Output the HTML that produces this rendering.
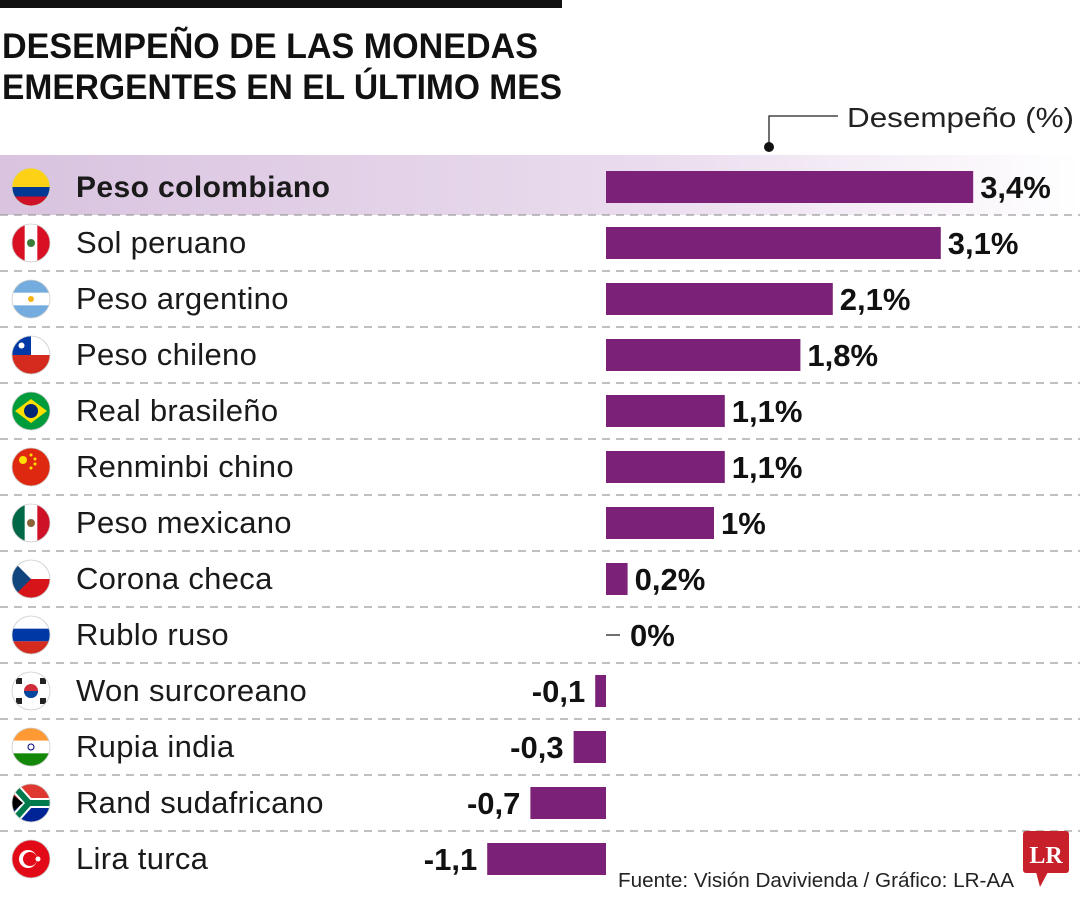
<!DOCTYPE html>
<html><head><meta charset="utf-8"><style>
body{margin:0;background:#fff;}
svg{display:block;font-family:"Liberation Sans",sans-serif;}
</style></head><body>
<svg id="chart" width="1080" height="900" viewBox="0 0 1080 900">
<defs>
<linearGradient id="hl" x1="0" x2="1" y1="0" y2="0">
<stop offset="0" stop-color="#d9c3df"/><stop offset="0.6" stop-color="#eadcee"/><stop offset="1" stop-color="#ffffff"/>
</linearGradient>
</defs>
<rect x="0" y="0" width="562" height="8" fill="#111"/>
<text x="2" y="58" font-size="35" font-weight="bold" fill="#111" textLength="536" lengthAdjust="spacingAndGlyphs">DESEMPEÑO DE LAS MONEDAS</text>
<text x="2" y="99" font-size="35" font-weight="bold" fill="#111" textLength="560" lengthAdjust="spacingAndGlyphs">EMERGENTES EN EL ÚLTIMO MES</text>
<rect x="0" y="155" width="1080" height="60" fill="url(#hl)"/>
<g>
<polyline points="769,146 769,116 838,116" fill="none" stroke="#222" stroke-width="1.3"/>
<circle cx="769" cy="147" r="5" fill="#111"/>
<text x="847" y="127" font-size="28" fill="#222" textLength="227" lengthAdjust="spacingAndGlyphs">Desempeño (%)</text>
</g>
<g id="rows"></g>
<text x="618" y="887" font-size="20" fill="#222" textLength="396" lengthAdjust="spacingAndGlyphs">Fuente: Visión Davivienda / Gráfico: LR-AA</text>
<g>
<rect x="1023" y="831" width="46" height="42" rx="3" fill="#c8202a"/>
<polygon points="1036,872 1048,872 1040,887" fill="#c8202a"/>
<text x="1046" y="863" font-size="24" font-weight="bold" fill="#fff" text-anchor="middle" font-family="Liberation Serif,serif">LR</text>
</g>
</svg>
<script>
const categories=["Peso colombiano","Sol peruano","Peso argentino","Peso chileno","Real brasileño","Renminbi chino","Peso mexicano","Corona checa","Rublo ruso","Won surcoreano","Rupia india","Rand sudafricano","Lira turca"];
const values=[3.4,3.1,2.1,1.8,1.1,1.1,1,0.2,0,-0.1,-0.3,-0.7,-1.1];
const valueLabels=["3,4%","3,1%","2,1%","1,8%","1,1%","1,1%","1%","0,2%","0%","-0,1","-0,3","-0,7","-1,1"];
const flags=["co","pe","ar","cl","br","cn","mx","cz","ru","kr","in","za","tr"];
const NS="http://www.w3.org/2000/svg";
const zeroX=606, scale=108, rowTop=187, pitch=56, barH=32;
const xPos=v=>zeroX+v*scale;
const yPos=i=>rowTop+i*pitch;
const g=document.getElementById('rows');
function mk(tag,attrs,parent){const e=document.createElementNS(NS,tag);for(const k in attrs)e.setAttribute(k,attrs[k]);(parent||g).appendChild(e);return e;}
function flag(code,cx,cy,parent){
  const r=19;
  const id='c'+code;
  const cp=mk('clipPath',{id:id},parent);mk('circle',{cx:cx,cy:cy,r:r},cp);
  const f=mk('g',{'clip-path':'url(#'+id+')'},parent);
  const R=(x,y,w,h,c)=>mk('rect',{x:cx-r+x,y:cy-r+y,width:w,height:h,fill:c},f);
  const D=2*r;
  switch(code){
   case 'co':R(0,0,D,D/2,'#fcd116');R(0,D/2,D,D/4,'#003893');R(0,D*3/4,D,D/4,'#ce1126');break;
   case 'pe':R(0,0,D,D,'#fff');R(0,0,D/3,D,'#d91023');R(D*2/3,0,D/3,D,'#d91023');mk('circle',{cx:cx,cy:cy,r:4,fill:'#3a7d3a'},f);break;
   case 'ar':R(0,0,D,D,'#fff');R(0,0,D,D/3,'#74acdf');R(0,D*2/3,D,D/3,'#74acdf');mk('circle',{cx:cx,cy:cy,r:3,fill:'#f6b40e'},f);break;
   case 'cl':R(0,0,D,D/2,'#fff');R(0,D/2,D,D/2,'#d52b1e');R(0,0,D/2,D/2,'#0039a6');mk('circle',{cx:cx-r/2,cy:cy-r/2,r:3,fill:'#fff'},f);break;
   case 'br':R(0,0,D,D,'#009c3b');mk('polygon',{points:`${cx-16},${cy} ${cx},${cy-12} ${cx+16},${cy} ${cx},${cy+12}`,fill:'#ffdf00'},f);mk('circle',{cx:cx,cy:cy,r:7,fill:'#002776'},f);break;
   case 'cn':R(0,0,D,D,'#de2910');mk('circle',{cx:cx-8,cy:cy-7,r:4,fill:'#ffde00'},f);[[0,-12],[4,-8],[4,-3],[0,1]].forEach(p=>mk('circle',{cx:cx+p[0],cy:cy+p[1],r:1.5,fill:'#ffde00'},f));break;
   case 'mx':R(0,0,D,D,'#fff');R(0,0,D/3,D,'#006847');R(D*2/3,0,D/3,D,'#ce1126');mk('circle',{cx:cx,cy:cy,r:4,fill:'#8c6239'},f);break;
   case 'cz':R(0,0,D,D/2,'#fff');R(0,D/2,D,D/2,'#d7141a');mk('polygon',{points:`${cx-r},${cy-r} ${cx},${cy} ${cx-r},${cy+r}`,fill:'#11457e'},f);break;
   case 'ru':R(0,0,D,D/3,'#fff');R(0,D/3,D,D/3,'#0039a6');R(0,D*2/3,D,D/3,'#d52b1e');break;
   case 'kr':R(0,0,D,D,'#fff');mk('circle',{cx:cx,cy:cy,r:7,fill:'#cd2e3a'},f);mk('path',{d:`M${cx-7},${cy} A7,7 0 0 0 ${cx+7},${cy} Z`,fill:'#0047a0'},f);
     [[-12,-10],[12,-10],[-12,10],[12,10]].forEach(p=>mk('rect',{x:cx+p[0]-3,y:cy+p[1]-3,width:6,height:6,fill:'#222'},f));break;
   case 'in':R(0,0,D,D/3,'#ff9933');R(0,D/3,D,D/3,'#fff');R(0,D*2/3,D,D/3,'#138808');mk('circle',{cx:cx,cy:cy,r:3,fill:'none',stroke:'#000080'},f);break;
   case 'za':R(0,0,D,D/2,'#de3831');R(0,D/2,D,D/2,'#002395');mk('path',{d:`M${cx-r},${cy-r} L${cx-2},${cy} L${cx-r},${cy+r} M${cx-2},${cy} L${cx+r},${cy}`,stroke:'#fff',"stroke-width":10,fill:'none'},f);
     mk('path',{d:`M${cx-r},${cy-r} L${cx-2},${cy} L${cx-r},${cy+r} M${cx-2},${cy} L${cx+r},${cy}`,stroke:'#007a4d',"stroke-width":6,fill:'none'},f);mk('polygon',{points:`${cx-r},${cy-9} ${cx-8},${cy} ${cx-r},${cy+9}`,fill:'#000'},f);break;
   case 'tr':R(0,0,D,D,'#e30a17');mk('circle',{cx:cx-3,cy:cy,r:9,fill:'#fff'},f);mk('circle',{cx:cx-1,cy:cy,r:7,fill:'#e30a17'},f);mk('circle',{cx:cx+7,cy:cy,r:2.5,fill:'#fff'},f);break;
  }
  mk('circle',{cx:cx,cy:cy,r:r,fill:'none',stroke:'#ccc','stroke-width':0.8},parent);
}
categories.forEach((c,i)=>{
  const cy=yPos(i);
  const row=mk('g',{});
  
  
  if(i<categories.length-1){
    const sep=mk('line',{x1:0,x2:1080,y1:cy+28,y2:cy+28,stroke:'#9a9a9a','stroke-width':1.2,'stroke-dasharray':'8,6'},row);
    
    
  }
  const fg=mk('g',{},row);
  
  
  flag(flags[i],31,cy,fg);
  const t=mk('text',{x:76,y:cy+10,'font-size':i===0?30:31,fill:'#1a1a1a','font-weight':i===0?'bold':'normal','letter-spacing':i===0?0.4:0.3},row);
  t.textContent=c;
  
  
  const v=values[i];
  const x0=Math.min(xPos(0),xPos(v)), w=Math.abs(xPos(v)-xPos(0));
  if(v!==0){
    const b=mk('rect',{x:x0,y:cy-barH/2,width:w,height:barH,fill:'#7b2278'},row);
    
    
  } else {
    mk('line',{x1:xPos(0),x2:xPos(0)+14,y1:cy,y2:cy,stroke:'#222','stroke-width':1.3},row);
  }
  const lx = v>0 ? xPos(v)+7 : (v===0 ? xPos(0)+24 : xPos(v)-10);
  const lab=mk('text',{x:lx,y:cy+11,'font-size':31,'font-weight':'bold',fill:'#111','text-anchor':v<0?'end':'start'},row);
  lab.textContent=valueLabels[i];
  
  
});
</script>
</body></html>
